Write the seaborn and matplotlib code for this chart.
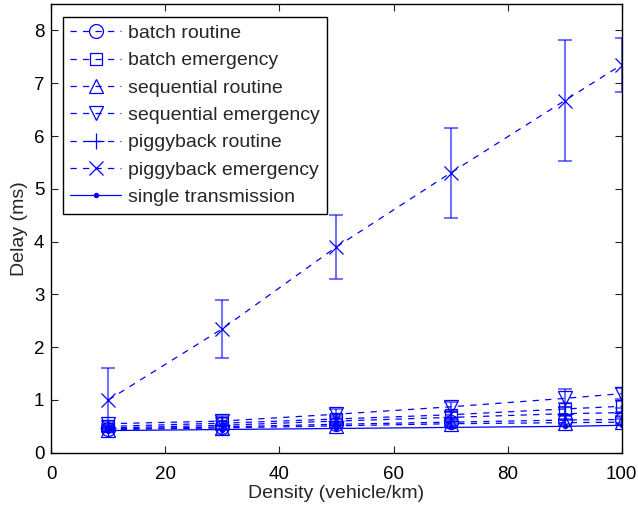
import matplotlib
matplotlib.use('Agg')
import matplotlib.pyplot as plt
import numpy as np
import pandas as pd
import seaborn as sns

sns.set_style('ticks')
plt.rcParams['font.family'] = ['Liberation Sans', 'DejaVu Sans']

density = [10, 30, 50, 70, 90, 100]

# mean delay (ms) per scheme
batch_routine = [0.45, 0.49, 0.54, 0.58, 0.62, 0.63]
batch_emergency = [0.50, 0.56, 0.64, 0.72, 0.83, 0.88]
seq_routine = [0.44, 0.47, 0.51, 0.55, 0.57, 0.58]
seq_emergency = [0.55, 0.60, 0.73, 0.87, 1.03, 1.12]
piggy_routine = [0.47, 0.52, 0.60, 0.67, 0.74, 0.76]
piggy_emergency = [1.00, 2.35, 3.90, 5.30, 6.67, 7.35]
single = [0.42, 0.44, 0.46, 0.48, 0.50, 0.52]

# half-width of error bars
err_batch_routine = [0.03, 0.04, 0.05, 0.06, 0.07, 0.07]
err_batch_emergency = [0.04, 0.05, 0.07, 0.08, 0.12, 0.10]
err_seq_routine = [0.03, 0.03, 0.04, 0.05, 0.06, 0.06]
err_seq_emergency = [0.05, 0.06, 0.09, 0.10, 0.17, 0.10]
err_piggy_routine = [0.04, 0.18, 0.08, 0.10, 0.12, 0.09]
err_piggy_emergency = [0.60, 0.55, 0.60, 0.85, 1.15, 0.51]

labels = ['batch routine', 'batch emergency', 'sequential routine',
          'sequential emergency', 'piggyback routine', 'piggyback emergency',
          'single transmission']
means = [batch_routine, batch_emergency, seq_routine, seq_emergency,
         piggy_routine, piggy_emergency, single]
errs = [err_batch_routine, err_batch_emergency, err_seq_routine,
        err_seq_emergency, err_piggy_routine, err_piggy_emergency, None]
markers = ['o', 's', '^', 'v', '+', 'x', '.']
sizes = [10, 9, 10, 10, 12, 10, 6]

fig = plt.figure(figsize=(6.38, 5.07), dpi=100)
ax = fig.add_axes([0.0804, 0.107, 0.894, 0.885])

blue = '#0000ff'
for lab, m, e, mk, ms in zip(labels, means, errs, markers, sizes):
    df = pd.DataFrame({'density': density, 'delay': m})
    ls = '-' if e is None else (0, (5, 5))
    sns.lineplot(data=df, x='density', y='delay', ax=ax, color=blue,
                 linestyle=ls, lw=0.9, marker=mk, markersize=ms,
                 markerfacecolor='none' if mk != '.' else blue,
                 markeredgecolor=blue, markeredgewidth=0.9, label=lab)
    if e is not None:
        ax.errorbar(density, m, yerr=e, fmt='none', ecolor=blue, alpha=0.55,
                    elinewidth=1.5, capsize=5, capthick=1.5)

ax.set_xlim(0, 100)
ax.set_ylim(0, 8.5)
ax.set_xticks([0, 20, 40, 60, 80, 100])
ax.set_yticks(range(0, 9))
ax.tick_params(direction='in', top=True, right=True, labelsize=13.5, length=5,
               width=0.8, colors='#222222', labelcolor='black')
ax.tick_params(axis='x', pad=9.5)
ax.tick_params(axis='y', pad=5)
for s in ax.spines.values():
    s.set_linewidth(1.0)
    s.set_color('black')
ax.set_xlabel('Density (vehicle/km)', fontsize=14, labelpad=1.5)
ax.set_ylabel('Delay (ms)', fontsize=14, labelpad=4)

leg = ax.legend(loc='upper left', bbox_to_anchor=(0.02, 0.972), fontsize=14,
                handlelength=2.6, handletextpad=0.35, labelspacing=0.5,
                borderpad=0.4, borderaxespad=0, fancybox=False, framealpha=1,
                edgecolor='black')
leg.get_frame().set_linewidth(1.0)

fig.savefig('out.png', dpi=100)
